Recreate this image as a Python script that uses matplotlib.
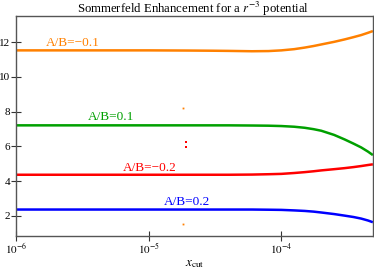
import matplotlib
matplotlib.use("Agg")
import matplotlib.pyplot as plt

plt.rcParams['font.family'] = ['Liberation Serif', 'DejaVu Serif']
plt.rcParams['mathtext.fontset'] = 'stix'

x_cut = [1e-6, 3e-6, 1e-5, 2e-5, 3e-5, 4e-5, 6e-5, 8e-5, 1e-4, 1.25e-4, 1.5e-4,
         1.75e-4, 2e-4, 2.5e-4, 3e-4, 3.5e-4, 4e-4, 4.5e-4, 4.9e-4]
s_m01 = [11.52, 11.52, 11.52, 11.51, 11.50, 11.49, 11.47, 11.48, 11.52, 11.59, 11.68,
         11.77, 11.86, 12.01, 12.15, 12.28, 12.40, 12.53, 12.63]
s_p01 = [7.21, 7.21, 7.21, 7.21, 7.21, 7.21, 7.20, 7.19, 7.17, 7.13, 7.07,
         6.99, 6.90, 6.66, 6.40, 6.16, 5.94, 5.70, 5.50]
s_m02 = [4.37, 4.37, 4.37, 4.37, 4.37, 4.37, 4.38, 4.40, 4.42, 4.47, 4.52,
         4.57, 4.62, 4.69, 4.75, 4.81, 4.87, 4.93, 4.97]
s_p02 = [2.37, 2.37, 2.37, 2.37, 2.37, 2.37, 2.37, 2.36, 2.35, 2.32, 2.29,
         2.25, 2.20, 2.11, 2.02, 1.94, 1.85, 1.74, 1.64]

series_labels = ["A/B=\u22120.1", "A/B=0.1", "A/B=\u22120.2", "A/B=0.2"]
label_x = [2.68e-6, 5.2e-6, 1.02e-5, 1.93e-5]
label_y = [11.97, 7.68, 4.75, 2.82]
colors = ['#FF8000', '#00A000', '#FF0000', '#0000FF']

dot_orange_x = [1.8e-5, 1.8e-5]
dot_orange_y = [8.23, 1.54]
dot_red_x = [1.9e-5, 1.9e-5]
dot_red_y = [6.25, 5.96]

fig = plt.figure(figsize=(3.74, 2.70), dpi=100)
ax = fig.add_axes([0.043, 0.126, 0.954, 0.815])

for s, c in zip([s_m01, s_p01, s_m02, s_p02], colors):
    ax.plot(x_cut, s, color=c, lw=1.8, solid_capstyle='butt')

ax.plot(dot_orange_x, dot_orange_y, 's', color='#FF8000', ms=1.3, mew=0)
ax.plot(dot_red_x, dot_red_y, 's', color='#FF0000', ms=1.5, mew=0)

for lab, lx, ly, c in zip(series_labels, label_x, label_y, colors):
    ax.text(lx, ly, lab, color=c, fontsize=9.5, ha='center', va='center')

ax.set_xscale('log')
ax.set_xlim(1e-6, 4.9e-4)
ax.set_ylim(0.85, 13.5)
ax.set_xticks([1e-6, 1e-5, 1e-4])
ax.set_xticklabels([r'$10^{-6}$', r'$10^{-5}$', r'$10^{-4}$'])
ax.xaxis.set_minor_locator(matplotlib.ticker.NullLocator())
ax.set_yticks([2, 4, 6, 8, 10, 12])
ax.tick_params(direction='inout', length=7, width=0.8, labelsize=8, color='#333333', pad=0.5)
for sp in ax.spines.values():
    sp.set_color('#555555')
    sp.set_linewidth(1.0)

fig.text(0.517, 0.953, r'Sommerfeld Enhancement for a $r^{-3}$ potential',
         fontsize=9.2, ha='center', va='baseline')
ax.set_xlabel(r'$x_{\rm cut}$', fontsize=9.5, labelpad=1)

fig.savefig('out.png', dpi=100)
